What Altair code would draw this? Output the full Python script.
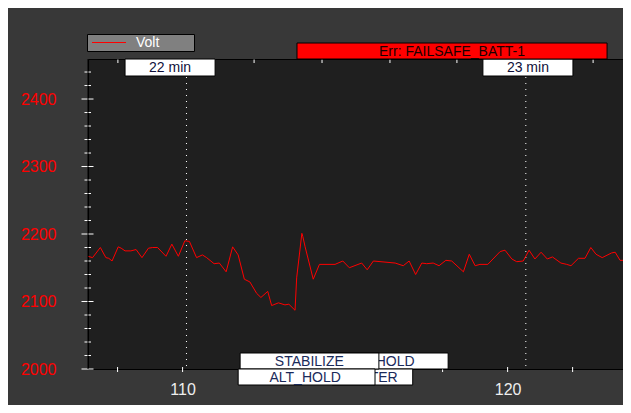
import altair as alt
import pandas as pd

# ---------------- data ----------------
t = [107.09, 107.23, 107.47, 107.64, 107.73, 107.83, 108.02, 108.11, 108.23, 108.41,
     108.57, 108.75, 108.95, 109.08, 109.23, 109.49, 109.67, 109.87, 110.07, 110.21,
     110.43, 110.61, 110.74, 110.97, 111.13, 111.34, 111.54, 111.71, 111.90, 112.07,
     112.28, 112.41, 112.62, 112.74, 112.95, 113.15, 113.27, 113.46, 113.51, 113.67,
     113.70, 113.77, 114.02, 114.21, 114.69, 114.93, 115.13, 115.51, 115.68, 115.87,
     116.54, 116.79, 116.97, 117.17, 117.36, 117.51, 117.71, 117.89, 118.10, 118.28,
     118.64, 118.82, 119.00, 119.15, 119.39, 119.77, 119.92, 120.13, 120.28, 120.48,
     120.66, 120.84, 121.03, 121.22, 121.38, 121.64, 121.82, 121.95, 122.18, 122.38,
     122.56, 122.72, 122.91, 123.20, 123.31, 123.46, 123.61, 123.80]
volt = [2167, 2165, 2180, 2165, 2164, 2160, 2181, 2179, 2175, 2175,
        2177, 2165, 2179, 2180, 2180, 2167, 2185, 2167, 2190, 2189,
        2165, 2169, 2165, 2156, 2157, 2144, 2181, 2169, 2133, 2129,
        2112, 2106, 2115, 2094, 2098, 2095, 2096, 2087, 2135, 2201,
        2196, 2181, 2133, 2155, 2155, 2160, 2150, 2157, 2147, 2160,
        2157, 2153, 2160, 2140, 2157, 2156, 2157, 2153, 2161, 2160,
        2144, 2170, 2153, 2155, 2155, 2174, 2176, 2163, 2159, 2160,
        2176, 2163, 2173, 2163, 2166, 2157, 2155, 2153, 2164, 2164,
        2180, 2170, 2165, 2172, 2173, 2161, 2161, 2163]

y_major = [2000, 2100, 2200, 2300, 2400]
y_minor = [2020, 2040, 2060, 2080, 2120, 2140, 2160, 2180, 2220, 2240, 2260, 2280,
           2320, 2340, 2360, 2380, 2420, 2440]
x_labels = [110, 120]
bottom_ticks = [108, 110, 112, 114, 116, 118, 120, 122]
top_ticks = [108.01, 112.2, 114.29, 116.38, 118.44, 122.63]
minute_lines = [110.12, 120.56]
minute_labels = ["22 min", "23 min"]
minute_box_start = [108.23, 119.24]
minute_box_end = [111.0, 122.01]

# flight-mode boxes: (label, start, end, text centre)
back_upper = ("ALT_HOLD", 113.98, 118.17, 116.04)
back_lower = ("LOITER", 114.60, 117.08, 115.84)
front_upper = ("STABILIZE", 111.77, 116.04, 113.90)
front_lower = ("ALT_HOLD", 111.71, 115.92, 113.77)

err_label = ["Err: FAILSAFE_BATT-1"]
err_start = [113.52]
err_end = [123.06]
err_center = [118.29]

FONT = "Liberation Sans"
W, H = 535, 310

xs = alt.Scale(domain=[107.09, 123.55], nice=False, zero=False)
ys = alt.Scale(domain=[2000, 2459.3], nice=False, zero=False)

X_AXIS = alt.Axis(values=x_labels, ticks=False, tickSize=0, domain=False, grid=False,
                  labelColor="#eeeeee", labelFont=FONT, labelFontSize=16,
                  labelPadding=12, labelFlush=False, format="d", title=None)
Y_AXIS = alt.Axis(values=y_major, ticks=False, tickSize=0, domain=False, grid=False,
                  labelColor="#ff0000", labelFont=FONT, labelFontSize=16,
                  labelPadding=32, labelFlush=False, format="d", title=None)


def X(field):
    return alt.X(field, scale=xs, axis=X_AXIS, title=None)


def Y(field):
    return alt.Y(field, scale=ys, axis=Y_AXIS, title=None)


line_df = pd.DataFrame({"t": t, "volt": volt})
line = alt.Chart(line_df).mark_line(color="#ff0000", strokeWidth=1, clip=True).encode(
    x=X("t:Q"), y=Y("volt:Q"))

dotted = alt.Chart(pd.DataFrame({"m": minute_lines})).mark_rule(
    color="#ffffff", strokeWidth=1, strokeDash=[1, 5]).encode(
    x=X("m:Q"), y=alt.value(0), y2=alt.value(H))

ymaj = alt.Chart(pd.DataFrame({"v": y_major})).mark_rule(color="#ffffff", strokeWidth=1).encode(
    y=Y("v:Q"), x=alt.value(-6.5), x2=alt.value(5.5))
ymin = alt.Chart(pd.DataFrame({"v": y_minor})).mark_rule(color="#ffffff", strokeWidth=1).encode(
    y=Y("v:Q"), x=alt.value(-3.5), x2=alt.value(3))
yline = alt.Chart(pd.DataFrame({"v": [0]})).mark_rule(color="#000000", strokeWidth=1).encode(
    x=alt.value(0), y=alt.value(0), y2=alt.value(H))

tticks = alt.Chart(pd.DataFrame({"v": top_ticks})).mark_rule(color="#ffffff", strokeWidth=1).encode(
    x=X("v:Q"), y=alt.value(0.5), y2=alt.value(4))
bticks = alt.Chart(pd.DataFrame({"v": bottom_ticks})).mark_rule(color="#ffffff", strokeWidth=1).encode(
    x=X("v:Q"), y=alt.value(H - 2), y2=alt.value(H + 3))

min_df = pd.DataFrame({"label": minute_labels, "x0": minute_box_start, "x1": minute_box_end})
min_df["xc"] = (min_df["x0"] + min_df["x1"]) / 2
min_box = alt.Chart(min_df).mark_rect(fill="#ffffff", stroke="#000000", strokeWidth=1).encode(
    x=X("x0:Q"), x2="x1:Q", y=alt.value(0), y2=alt.value(17))
min_txt = alt.Chart(min_df).mark_text(font=FONT, fontSize=14, color="#10103a",
                                      baseline="middle", align="center").encode(
    x=X("xc:Q"), y=alt.value(8.5), text="label:N")


def mode_layers(mode, top):
    label, x0, x1, xc = mode
    df = pd.DataFrame({"label": [label], "x0": [x0], "x1": [x1], "xc": [xc]})
    box = alt.Chart(df).mark_rect(fill="#ffffff", stroke="#000000", strokeWidth=1).encode(
        x=X("x0:Q"), x2="x1:Q", y=alt.value(top), y2=alt.value(top + 16))
    txt = alt.Chart(df).mark_text(font=FONT, fontSize=14, color="#1a2a5a",
                                  baseline="middle", align="center").encode(
        x=X("xc:Q"), y=alt.value(top + 8.5), text="label:N")
    return [box, txt]


modes = (mode_layers(back_upper, H - 16) + mode_layers(back_lower, H)
         + mode_layers(front_upper, H - 16) + mode_layers(front_lower, H))

err_df = pd.DataFrame({"label": err_label, "x0": err_start, "x1": err_end, "xc": err_center})
err_box = alt.Chart(err_df).mark_rect(fill="#ff0000", stroke="#000000", strokeWidth=1).encode(
    x=X("x0:Q"), x2="x1:Q", y=alt.value(-16), y2=alt.value(0))
err_txt = alt.Chart(err_df).mark_text(font=FONT, fontSize=14, color="#1a0000",
                                      baseline="middle", align="center").encode(
    x=X("xc:Q"), y=alt.value(-7.5), text="label:N")

leg_df = pd.DataFrame({"label": ["Volt"]})
leg_box = alt.Chart(leg_df).mark_rect(fill="#808080", stroke="#000000", strokeWidth=1).encode(
    x=alt.value(-0.5), x2=alt.value(106.5), y=alt.value(-24.5), y2=alt.value(-7.5))
leg_line = alt.Chart(leg_df).mark_rule(color="#ff0000", strokeWidth=1).encode(
    x=alt.value(4), x2=alt.value(38), y=alt.value(-16.5))
leg_txt = alt.Chart(leg_df).mark_text(font=FONT, fontSize=14, color="#ffffff",
                                      baseline="middle", align="left").encode(
    x=alt.value(48), y=alt.value(-16), text="label:N")

chart = alt.layer(
    dotted, line, ymin, ymaj, yline, tticks, bticks, min_box, min_txt,
    *modes, err_box, err_txt, leg_box, leg_line, leg_txt
).properties(
    width=W, height=H,
    autosize=alt.AutoSizeParams(type="none"),
    padding={"left": 80, "top": 51, "right": 0, "bottom": 36},
    background="#383838",
).configure_view(
    fill="#1f1f1f", stroke="#000000", strokeWidth=1
)

chart.save("out.html", embed_options={"renderer": "svg", "actions": False})
